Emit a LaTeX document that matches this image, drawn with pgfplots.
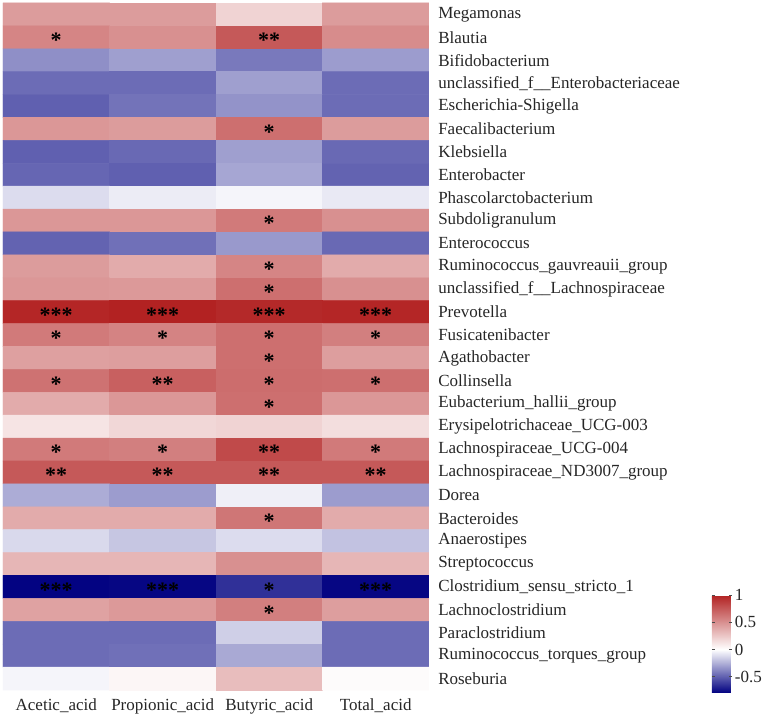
\documentclass[border=0pt]{standalone}
\usepackage{pgfplots}
\usepackage{pgfplotstable}
\pgfplotsset{compat=1.18}
\usepackage{fontspec}
\setmainfont{Liberation Serif}
\pgfplotstableread{
x y v
0 0 0.45
1 0 0.45
2 0 0.20
3 0 0.45
0 1 0.55
1 1 0.50
2 1 0.75
3 1 0.52
0 2 -0.35
1 2 -0.30
2 2 -0.42
3 2 -0.31
0 3 -0.46
1 3 -0.46
2 3 -0.30
3 3 -0.46
0 4 -0.50
1 4 -0.44
2 4 -0.34
3 4 -0.46
0 5 0.47
1 5 0.45
2 5 0.65
3 5 0.45
0 6 -0.50
1 6 -0.47
2 6 -0.30
3 6 -0.47
0 7 -0.48
1 7 -0.50
2 7 -0.28
3 7 -0.49
0 8 -0.11
1 8 -0.06
2 8 -0.03
3 8 -0.07
0 9 0.47
1 9 0.47
2 9 0.60
3 9 0.50
0 10 -0.49
1 10 -0.45
2 10 -0.32
3 10 -0.47
0 11 0.45
1 11 0.38
2 11 0.55
3 11 0.38
0 12 0.47
1 12 0.46
2 12 0.65
3 12 0.50
0 13 0.98
1 13 1.00
2 13 0.97
3 13 0.98
0 14 0.60
1 14 0.56
2 14 0.65
3 14 0.58
0 15 0.43
1 15 0.44
2 15 0.65
3 15 0.44
0 16 0.64
1 16 0.72
2 16 0.66
3 16 0.65
0 17 0.38
1 17 0.47
2 17 0.65
3 17 0.47
0 18 0.12
1 18 0.18
2 18 0.20
3 18 0.15
0 19 0.60
1 19 0.58
2 19 0.82
3 19 0.60
0 20 0.75
1 20 0.75
2 20 0.75
3 20 0.75
0 21 -0.26
1 21 -0.31
2 21 -0.05
3 21 -0.31
0 22 0.38
1 22 0.38
2 22 0.62
3 22 0.38
0 23 -0.12
1 23 -0.18
2 23 -0.11
3 23 -0.19
0 24 0.33
1 24 0.33
2 24 0.50
3 24 0.33
0 25 -0.79
1 25 -0.78
2 25 -0.65
3 25 -0.78
0 26 0.42
1 26 0.46
2 26 0.58
3 26 0.44
0 27 -0.46
1 27 -0.46
2 27 -0.15
3 27 -0.46
0 28 -0.46
1 28 -0.45
2 28 -0.27
3 28 -0.46
0 29 -0.03
1 29 0.04
2 29 0.30
3 29 0.02
}\heat
\pgfplotstableread{
x y s
0 1 *
2 1 **
2 5 *
2 9 *
2 11 *
2 12 *
0 13 ***
1 13 ***
2 13 ***
3 13 ***
0 14 *
1 14 *
2 14 *
3 14 *
2 15 *
0 16 *
1 16 **
2 16 *
3 16 *
2 17 *
0 19 *
1 19 *
2 19 **
3 19 *
0 20 **
1 20 **
2 20 **
3 20 **
2 22 *
0 25 ***
1 25 ***
2 25 *
3 25 ***
2 26 *
}\stars
\begin{document}
\begin{tikzpicture}
\useasboundingbox (-2.25pt,-22.5pt) rectangle (573pt,517.5pt);
\begin{axis}[
  at={(0pt,0pt)}, anchor=south west,
  scale only axis, width=319.5pt, height=515.25pt,
  xmin=-0.5, xmax=3.5, ymin=-0.5, ymax=29.5, y dir=reverse,
  axis line style={draw=none},
  xtick={0,1,2,3},
  xticklabels={Acetic\_acid,Propionic\_acid,Butyric\_acid,Total\_acid},
  ytick={0,...,29},
  yticklabels={Megamonas,Blautia,Bifidobacterium,unclassified\_f\_\_Enterobacteriaceae,Escherichia-Shigella,Faecalibacterium,Klebsiella,Enterobacter,Phascolarctobacterium,Subdoligranulum,Enterococcus,Ruminococcus\_gauvreauii\_group,unclassified\_f\_\_Lachnospiraceae,Prevotella,Fusicatenibacter,Agathobacter,Collinsella,Eubacterium\_hallii\_group,Erysipelotrichaceae\_UCG-003,Lachnospiraceae\_UCG-004,Lachnospiraceae\_ND3007\_group,Dorea,Bacteroides,Anaerostipes,Streptococcus,Clostridium\_sensu\_stricto\_1,Lachnoclostridium,Paraclostridium,Ruminococcus\_torques\_group,Roseburia},
  yticklabel pos=right,
  major tick length=0pt,
  tick label style={font=\fontsize{12.75}{15}\selectfont, text=black!85},
  xticklabel style={inner sep=0pt, yshift=-6.5pt},
  yticklabel style={inner sep=0pt, xshift=6.75pt},
  colormap={rb}{rgb255(0pt)=(0,0,128); rgb255(80pt)=(255,255,255); rgb255(180pt)=(178,34,34)},
  point meta min=-0.8, point meta max=1,
  colorbar,
  colorbar style={
    at={(parent axis.south east)}, anchor=south west,
    xshift=203.7pt, yshift=-2.25pt,
    scale only axis,
    width=15pt, height=73.5pt,
    ytick={-0.5,0,0.5,1},
    yticklabels={-0.5,0,0.5,1},
    yticklabel pos=right,
    axis line style={draw=none},
    major tick length=2pt,
    tick style={black!70, line width=0.6pt},
    yticklabel style={font=\fontsize{12.75}{15}\selectfont, text=black!85, inner sep=0pt, xshift=2pt},
  },
]
\addplot[matrix plot*, mesh/cols=4, point meta=explicit] table[x=x, y=y, meta=v] {\heat};
\addplot[only marks, mark=none, point meta=explicit symbolic,
  nodes near coords,
  nodes near coords style={anchor=center, inner sep=0pt, yshift=-2.3pt, font=\fontsize{16.5}{16.5}\selectfont\bfseries, text=black}]
  table[x=x, y=y, meta=s] {\stars};
\end{axis}
\end{tikzpicture}
\end{document}
